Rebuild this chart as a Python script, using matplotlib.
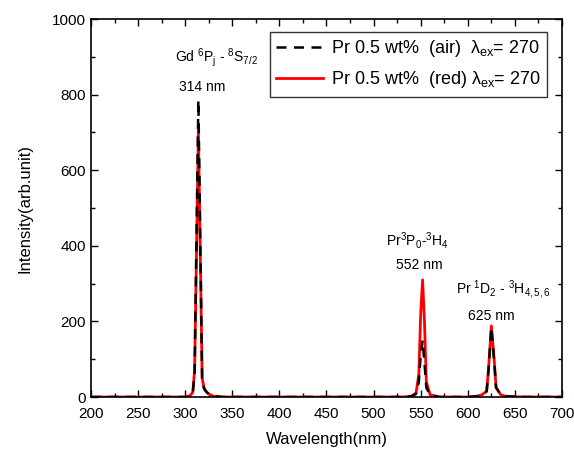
import numpy as np
import matplotlib
matplotlib.use("Agg")
import matplotlib.pyplot as plt
from matplotlib.ticker import MultipleLocator

plt.rcParams['font.family'] = ['Liberation Sans', 'DejaVu Sans']
plt.rcParams['mathtext.fontset'] = 'custom'
plt.rcParams['mathtext.rm'] = 'Liberation Sans'
plt.rcParams['mathtext.it'] = 'Liberation Sans'

# emission spectra
wl = [200, 290, 300, 305, 308, 310, 312, 314, 316, 318, 320, 322, 325, 330, 340,
      400, 500, 530, 540, 545, 548, 550, 552, 554, 556, 560, 570,
      600, 610, 615, 620, 622, 625, 628, 630, 635, 640, 660, 680, 700]
air = [0, 0, 0, 2, 10, 60, 420, 786, 420, 45, 22, 15, 8, 2, 0,
       0, 0, 0, 2, 8, 40, 110, 150, 90, 25, 5, 0,
       0, 2, 6, 15, 70, 185, 95, 25, 6, 2, 0, 0, 0]
red = [0, 0, 0, 3, 12, 70, 380, 706, 390, 50, 25, 15, 8, 2, 0,
       0, 0, 0, 2, 10, 60, 220, 310, 200, 40, 6, 0,
       0, 2, 6, 15, 75, 188, 100, 25, 6, 2, 0, 0, 0]

fig = plt.figure(figsize=(5.74, 4.53), dpi=100)
ax = fig.add_axes([0.1585, 0.1236, 0.8206, 0.8344])

l_red, = ax.plot(wl, red, color='red', lw=2.0, zorder=2)
l_air, = ax.plot(wl, air, color='black', lw=1.8, ls=(0, (4, 3)), zorder=3)

ax.set_xlim(200, 700)
ax.set_ylim(0, 1000)
ax.xaxis.set_major_locator(MultipleLocator(50))
ax.xaxis.set_minor_locator(MultipleLocator(25))
ax.yaxis.set_major_locator(MultipleLocator(200))
ax.yaxis.set_minor_locator(MultipleLocator(100))
ax.tick_params(which='both', direction='in', top=True, right=True, labelsize=11)
ax.tick_params(axis='x', which='major', pad=7)
ax.tick_params(which='major', length=5, width=1)
ax.tick_params(which='minor', length=3, width=1)
for s in ax.spines.values():
    s.set_linewidth(1.2)

ax.set_xlabel('Wavelength(nm)', fontsize=12, labelpad=8)
ax.set_ylabel('Intensity(arb.unit)', fontsize=12, labelpad=14)

ax.legend([l_air, l_red],
          [r'Pr 0.5 wt%  (air)  $\lambda_{\rm ex}$= 270',
           r'Pr 0.5 wt%  (red) $\lambda_{\rm ex}$= 270'],
          loc='upper right', bbox_to_anchor=(0.975, 0.975), fontsize=13,
          frameon=True, fancybox=False, edgecolor='black',
          handlelength=2.6, handletextpad=0.4, borderpad=0.35,
          labelspacing=0.55, borderaxespad=0.2)
ax.get_legend().get_frame().set_linewidth(1.0)

ax.text(333, 899, r'Gd $^6$P$_j$ - $^8$S$_{7/2}$', ha='center', va='center', fontsize=10)
ax.text(318, 820, '314 nm', ha='center', va='center', fontsize=10)
ax.text(547, 415, r'Pr$^3$P$_0$-$^3$H$_4$', ha='center', va='center', fontsize=10)
ax.text(549, 349, '552 nm', ha='center', va='center', fontsize=10)
ax.text(638, 283, r'Pr $^1$D$_2$ - $^3$H$_{4,5,6}$', ha='center', va='center', fontsize=10)
ax.text(625, 214, '625 nm', ha='center', va='center', fontsize=10)

fig.savefig('out.png', dpi=100)
